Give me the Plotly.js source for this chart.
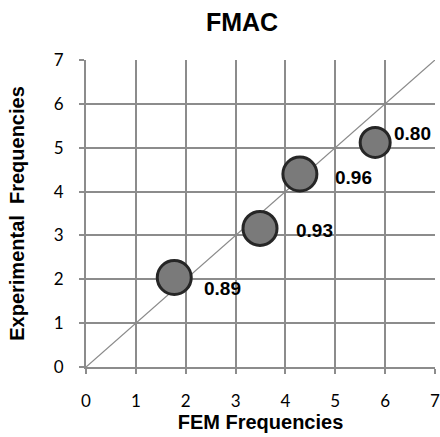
<!DOCTYPE html>
<html>
<head>
<meta charset="utf-8">
<script src="https://cdn.plot.ly/plotly-3.0.1.min.js"></script>
<style>html,body{margin:0;padding:0;background:#fff;}#chart{width:440px;height:437px;}</style>
</head>
<body>
<div id="chart"></div>
<script>
const femFreq = [1.77, 3.49, 4.29, 5.80];
const expFreq = [2.04, 3.16, 4.40, 5.12];
const macValues = ["0.89", "0.93", "0.96", "0.80"];
const markerSizes = [34, 34, 34, 30];
const refLine = [0, 7];
const tickVals = [0, 1, 2, 3, 4, 5, 6, 7];

// label offsets in pixels (style)
const labelDx = [48, 54, 54, 37];
const labelDy = [-11, -2, -3, 9];

const boldFont = 'Liberation Sans, Arial, sans-serif';

const traces = [
  {
    x: refLine, y: refLine, mode: 'lines', type: 'scatter',
    line: {color: '#8a8a8a', width: 1.3}, hoverinfo: 'skip'
  },
  {
    x: femFreq, y: expFreq, mode: 'markers', type: 'scatter',
    marker: {size: markerSizes, color: '#7a7a7a', opacity: 1, line: {color: '#262626', width: 3}}
  }
];

const annotations = femFreq.map((v, i) => ({
  x: v, y: expFreq[i], xref: 'x', yref: 'y', text: macValues[i],
  showarrow: false, xshift: labelDx[i], yshift: labelDy[i],
  font: {family: boldFont, size: 19, color: '#000', weight: 'bold'}
}));

const axisCommon = {
  range: [0, 7], tickvals: tickVals, showgrid: true, gridcolor: '#8c8c8c', gridwidth: 2,
  showline: true, linecolor: '#8c8c8c', linewidth: 2, zeroline: false,
  ticks: 'outside', ticklen: 5, tickcolor: '#8c8c8c', tickwidth: 2,
  tickfont: {family: 'Lato, Open Sans, sans-serif', size: 17, color: '#000'},
  ticklabeloverflow: 'allow',
  fixedrange: true
};

const layout = {
  width: 440, height: 437,
  margin: {l: 86, r: 5, t: 60, b: 70},
  paper_bgcolor: '#fff', plot_bgcolor: '#fff',
  showlegend: false,
  title: {text: 'FMAC', x: 242/440, xanchor: 'center', xref: 'container', y: 1 - 22/437, yanchor: 'middle',
          font: {family: boldFont, size: 25, color: '#000', weight: 'bold'}},
  xaxis: Object.assign({}, axisCommon, {
    ticklabelstandoff: 13,
    title: {text: 'FEM Frequencies', standoff: 2,
            font: {family: boldFont, size: 20, color: '#000', weight: 'bold'}}
  }),
  yaxis: Object.assign({}, axisCommon, {
    ticklabelstandoff: 12,
    title: {text: 'Experimental  Frequencies', standoff: 24,
            font: {family: boldFont, size: 20, color: '#000', weight: 'bold'}}
  }),
  annotations: annotations
};

Plotly.newPlot('chart', traces, layout, {displayModeBar: false, staticPlot: true});
</script>
</body>
</html>
